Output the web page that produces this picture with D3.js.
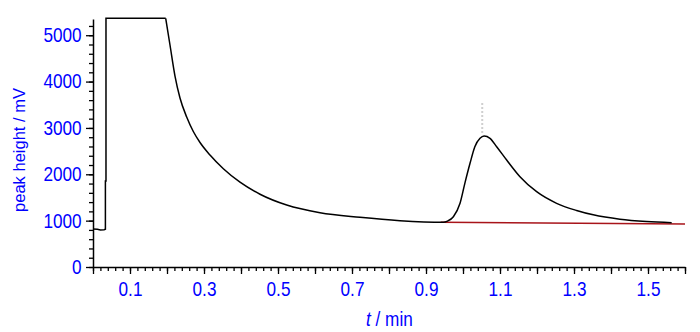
<!DOCTYPE html>
<html>
<head>
<meta charset="utf-8">
<script src="https://cdn.jsdelivr.net/npm/d3@7"></script>
<style>
  body { margin: 0; background: #fff; }
  svg { display: block; }
  text { font-family: "Liberation Sans", Arial, sans-serif; }
</style>
</head>
<body>
<div id="chart"></div>
<script>
// step at injection (drawn straight)
var stepTime = [0, 0.012, 0.02, 0.03, 0.0335, 0.0335, 0.0351, 0.0351, 0.1965];
var stepValue = [820, 815, 800, 805, 815, 1855, 1855, 5365, 5365];

// decay + sample peak (drawn smooth)
var signalTime = [0.1965, 0.2081, 0.2216, 0.2351, 0.2532, 0.2711, 0.2892, 0.3162, 0.3523, 0.3973,
    0.4514, 0.5235, 0.6135, 0.7216, 0.8297, 0.9468, 0.958, 0.974, 0.992, 1.005, 1.019, 1.032,
    1.046, 1.057, 1.073, 1.091, 1.118, 1.154, 1.199, 1.253, 1.307, 1.352, 1.424, 1.496, 1.564];
var signalValue = [5365, 4789, 4120, 3646, 3236, 2923, 2686, 2416, 2120, 1830,
    1570, 1337, 1171, 1072, 999, 964, 990, 1085, 1374, 1805, 2237, 2595,
    2776, 2826, 2776, 2595, 2308, 1948, 1624, 1374, 1220, 1125, 1030, 980, 955];

// integration baseline under the peak
var baseTime = [0.94, 1.6];
var baseValue = [963, 927];

// peak marker above apex
var markTime = [1.052, 1.052];
var markValue = [2890, 3566];

var yTicks = [0, 1000, 2000, 3000, 4000, 5000];
var xLabels = ["0.1", "0.3", "0.5", "0.7", "0.9", "1.1", "1.3", "1.5"];

var width = 700,
    height = 332;

var svg = d3.select("#chart")
    .append("svg")
    .attr("width", width)
    .attr("height", height);

svg.append("rect").attr("width", width).attr("height", height).attr("fill", "#fff");

var x = d3.scaleLinear().domain([0, 1.6]).range([93, 685]);
var y = d3.scaleLinear().domain([0, 5350]).range([267, 19]);

var blue = "#0000ff";

// minor ticks
svg.append("g")
    .attr("transform", "translate(0,267)")
    .call(d3.axisBottom(x).tickValues(d3.range(0, 81).map(function (i) { return i * 0.02; }))
        .tickSize(4).tickFormat(""))
    .call(function (g) { g.select(".domain").remove(); });

svg.append("g")
    .attr("transform", "translate(93,0)")
    .call(d3.axisLeft(y).tickValues(d3.range(0, 27).map(function (i) { return i * 200; }))
        .tickSize(4).tickFormat(""))
    .call(function (g) { g.select(".domain").remove(); });

// major ticks + labels
var xAxis = svg.append("g")
    .attr("transform", "translate(0,267)")
    .call(d3.axisBottom(x)
        .tickValues(d3.range(0, 17).map(function (i) { return i / 10; }))
        .tickSize(7).tickSizeOuter(0)
        .tickFormat(function (d) {
            var s = d3.format(".1f")(d);
            return xLabels.indexOf(s) >= 0 ? s : "";
        }));

var yAxis = svg.append("g")
    .attr("transform", "translate(93,0)")
    .call(d3.axisLeft(y).tickValues(yTicks).tickSize(7).tickSizeOuter(0)
        .tickFormat(d3.format("d")));

[xAxis, yAxis].forEach(function (g) {
    g.attr("font-size", 20);
    g.select(".domain").attr("stroke-width", 1.5);
    g.selectAll("text")
        .attr("fill", blue)
        .attr("transform", "scale(0.86,1)");
});
xAxis.selectAll("text").attr("y", 15);
yAxis.selectAll("text").attr("x", -13.2);
svg.selectAll(".tick line").attr("stroke-width", 1.3);

// axis titles
var xt = svg.append("text")
    .attr("transform", "translate(366,326) scale(0.86,1)")
    .attr("fill", blue)
    .attr("font-size", 20);
xt.append("tspan").style("font-style", "italic").text("t");
xt.append("tspan").text(" / min");

svg.append("text")
    .attr("transform", "translate(24.5,150) rotate(-90)")
    .attr("text-anchor", "middle")
    .attr("fill", blue)
    .attr("font-size", 16.5)
    .text("peak height / mV");

// lines
var lineLinear = d3.line()
    .x(function (d) { return x(d[0]); })
    .y(function (d) { return y(d[1]); });

var lineSmooth = d3.line()
    .curve(d3.curveMonotoneX)
    .x(function (d) { return x(d[0]); })
    .y(function (d) { return y(d[1]); });

svg.append("path")
    .datum(markTime.map(function (t, i) { return [t, markValue[i]]; }))
    .attr("d", lineLinear)
    .attr("fill", "none")
    .attr("stroke", "#cfcfcf")
    .attr("stroke-width", 2)
    .attr("stroke-dasharray", "2,2");

svg.append("path")
    .datum(baseTime.map(function (t, i) { return [t, baseValue[i]]; }))
    .attr("d", lineLinear)
    .attr("fill", "none")
    .attr("stroke", "#a8141a")
    .attr("stroke-width", 1.5);

svg.append("path")
    .datum(stepTime.map(function (t, i) { return [t, stepValue[i]]; }))
    .attr("d", lineLinear)
    .attr("fill", "none")
    .attr("stroke", "#000")
    .attr("stroke-width", 1.5);

svg.append("path")
    .datum(signalTime.map(function (t, i) { return [t, signalValue[i]]; }))
    .attr("d", lineSmooth)
    .attr("fill", "none")
    .attr("stroke", "#000")
    .attr("stroke-width", 1.5);
</script>
</body>
</html>
